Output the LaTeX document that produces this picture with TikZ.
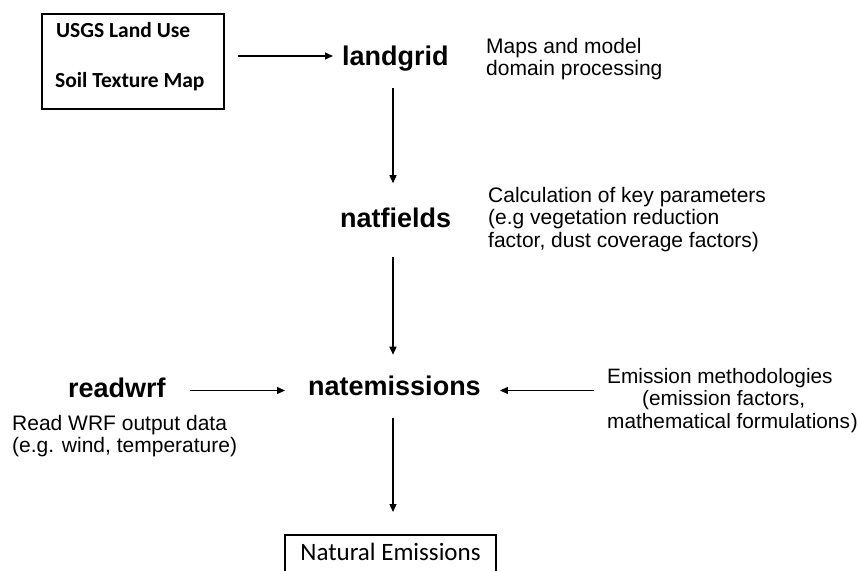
\documentclass[tikz,border=0pt]{standalone}
\usepackage{fontspec}
\setmainfont{Liberation Sans}
\newfontfamily\calibri{Carlito}
\usetikzlibrary{arrows.meta}
\tikzset{
  arr/.style={line width=1.3pt, -{Triangle[length=8pt,width=7pt]}},
  prog/.style={inner sep=0pt, anchor=base west, font=\fontsize{27}{30}\selectfont\bfseries},
  note/.style={inner sep=0pt, anchor=base west, font=\fontsize{21}{22.5}\selectfont},
  inbox/.style={inner sep=0pt, anchor=base west, font=\calibri\fontsize{21.5}{24}\selectfont\bfseries},
  framebox/.style={draw, line width=1.5pt}
}
\newcommand\lines[1]{\begin{tabular}[t]{@{}l@{}}#1\end{tabular}}
\begin{document}
\begin{tikzpicture}[x=1pt,y=-1pt]
\useasboundingbox (0,0) rectangle (859,570);
\clip (0,0) rectangle (859,570);

% input maps
\node[framebox, inner sep=0pt, minimum width=182pt, minimum height=95pt, anchor=north west] (box) at (41,13) {};
\node[inbox] (usgs) at (56,37.5) {USGS Land Use};
\node[inbox] (soil) at (55,87) {Soil Texture Map};

% processing steps
\node[prog] (landgrid) at (342,65) {landgrid};
\node[prog] (natfields) at (340,227) {natfields};
\node[prog] (natemissions) at (308,395) {natemissions};
\node[prog] (readwrf) at (68,397) {readwrf};

% descriptions
\node[note] (maps) at (486,53) {\lines{Maps and model\\domain processing}};
\node[note] (calc) at (488,202) {\lines{Calculation of key parameters\\(e.g vegetation reduction\\factor, dust coverage factors)}};
\node[note, font=\fontsize{20.8}{22.5}\selectfont] (emis) at (607,383) {\lines{Emission methodologies\\\hspace*{35pt}(emission factors,\\mathematical formulations\kern1pt)}};
\node[note] (wrfdata) at (12,430) {\lines{Read WRF output data\\(e.g. wind, temperature)}};

% output
\node[framebox, anchor=north, minimum width=211pt, inner xsep=0pt, inner ysep=8pt,
      text height=18pt, text depth=40pt, font=\calibri\fontsize{25}{28}\selectfont]
  (natural) at (390.5,534) {Natural Emissions};

% vertical flow axis and the row of the horizontal inputs
\coordinate (axis) at (393,0);
\coordinate (row) at (0,390.5);

% connectors
\draw[arr] ([xshift=13pt]box.east |- 0,56) -- ([xshift=-9pt]landgrid.west |- 0,56);
\draw[arr] ([yshift=-17pt]landgrid.south -| axis) -- ([yshift=24pt]natfields.north -| axis);
\draw[arr] ([yshift=-30pt]natfields.south -| axis) -- ([yshift=20.5pt]natemissions.north -| axis);
\draw[arr] ([xshift=24pt]readwrf.east |- row) -- ([xshift=-23pt]natemissions.west |- row);
\draw[arr] ([xshift=-13pt]emis.west |- row) -- ([xshift=19pt]natemissions.east |- row);
\draw[arr] ([yshift=-23pt]natemissions.south -| axis) -- ([yshift=22pt]natural.north -| axis);
\end{tikzpicture}
\end{document}
